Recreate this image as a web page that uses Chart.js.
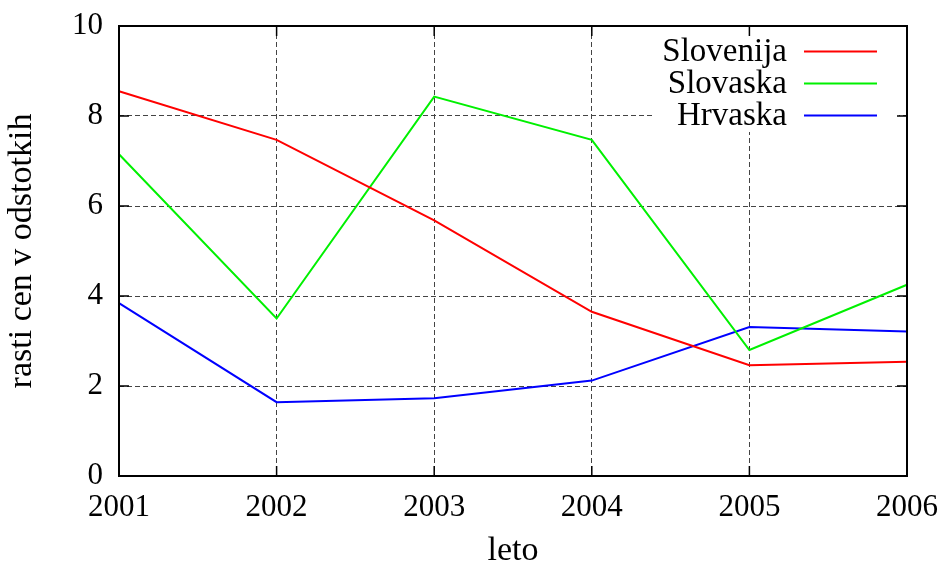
<!DOCTYPE html>
<html lang="en">
<head>
<meta charset="UTF-8">
<title>Rast cen</title>
<style>
html, body { margin: 0; padding: 0; background: #fff; }
#wrap { width: 941px; height: 567px; }
</style>
</head>
<body>
<div id="wrap"><canvas id="myChart" width="941" height="567"></canvas></div>
<script src="https://cdn.jsdelivr.net/npm/chart.js@4/dist/chart.umd.min.js"></script>
<script>
// data
var years = ['2001', '2002', '2003', '2004', '2005', '2006'];
var slovenija = [8.55, 7.47, 5.68, 3.65, 2.46, 2.54];
var slovaska = [7.15, 3.50, 8.43, 7.47, 2.80, 4.25];
var hrvaska = [3.84, 1.64, 1.73, 2.12, 3.31, 3.21];
var seriesNames = ['Slovenija', 'Slovaska', 'Hrvaska'];
var seriesColors = ['#ff0000', '#00f000', '#0000ff'];

var FONT = '"Liberation Serif", "DejaVu Serif", serif';

// gnuplot style frame: border all round, ticks pointing inwards on every side
var framePlugin = {
  id: 'frame',
  afterDraw: function(chart) {
    var ctx = chart.ctx;
    var a = chart.chartArea;
    var xs = chart.scales.x, ys = chart.scales.y;
    ctx.save();

    // key box (white, hides the grid behind it)
    ctx.fillStyle = '#fff';
    ctx.fillRect(655, a.top + 2, a.right - 8 - 655, 104);
    ctx.font = '33px ' + FONT;
    ctx.textAlign = 'right';
    ctx.textBaseline = 'middle';
    for (var i = 0; i < seriesNames.length; i++) {
      var yy = a.top + 25.5 + i * 32;
      ctx.fillStyle = '#000';
      ctx.fillText(seriesNames[i], 787, yy + 1);
      ctx.strokeStyle = seriesColors[i];
      ctx.lineWidth = 2;
      ctx.beginPath();
      ctx.moveTo(804, yy);
      ctx.lineTo(877, yy);
      ctx.stroke();
    }

    ctx.strokeStyle = '#000';
    ctx.lineWidth = 1.5;
    ctx.beginPath();
    ys.ticks.forEach(function(t) {
      var p = ys.getPixelForValue(t.value);
      ctx.moveTo(a.left, p); ctx.lineTo(a.left + 10, p);
      ctx.moveTo(a.right, p); ctx.lineTo(a.right - 10, p);
    });
    xs.ticks.forEach(function(t, k) {
      var p = xs.getPixelForTick(k);
      ctx.moveTo(p, a.bottom); ctx.lineTo(p, a.bottom - 10);
      ctx.moveTo(p, a.top); ctx.lineTo(p, a.top + 10);
    });
    ctx.stroke();

    ctx.lineWidth = 2;
    ctx.strokeRect(a.left, a.top, a.right - a.left, a.bottom - a.top);
    ctx.restore();
  }
};

// keep the plot box where the reference has it
function noScalePadding(s) {
  s.paddingTop = 0;
  s.paddingBottom = 0;
  s.paddingLeft = 0;
  s.paddingRight = 0;
}

var ctx = document.getElementById('myChart').getContext('2d');
var mychart = new Chart(ctx, {
  type: 'line',
  data: {
    labels: years,
    datasets: [
      { label: seriesNames[0], data: slovenija, borderColor: seriesColors[0] },
      { label: seriesNames[1], data: slovaska, borderColor: seriesColors[1] },
      { label: seriesNames[2], data: hrvaska, borderColor: seriesColors[2] }
    ]
  },
  options: {
    responsive: false,
    animation: false,
    devicePixelRatio: 1,
    layout: { padding: { top: 26, right: 34, left: 0, bottom: 0 } },
    elements: {
      line: { borderWidth: 2, tension: 0, fill: false },
      point: { radius: 0 }
    },
    plugins: {
      legend: { display: false },
      tooltip: { enabled: false }
    },
    scales: {
      x: {
        type: 'category',
        offset: false,
        grid: { color: '#444', lineWidth: 1, drawTicks: false },
        border: { display: false, dash: [5, 3] },
        ticks: { color: '#000', font: { family: FONT, size: 31 }, padding: 13, maxRotation: 0, autoSkip: false },
        title: { display: true, text: 'leto', color: '#000', font: { family: FONT, size: 34 }, padding: { top: 0, bottom: -4 } },
        afterFit: function(s) { s.height = 91; noScalePadding(s); }
      },
      y: {
        min: 0,
        max: 10,
        grid: { color: '#444', lineWidth: 1, drawTicks: false },
        border: { display: false, dash: [5, 3] },
        ticks: { stepSize: 2, color: '#000', font: { family: FONT, size: 31 }, padding: 16 },
        title: { display: true, text: 'rasti cen v odstotkih', color: '#000', font: { family: FONT, size: 34 }, padding: { top: 2, bottom: 0 } },
        afterFit: function(s) { s.width = 119; noScalePadding(s); }
      }
    }
  },
  plugins: [framePlugin]
});
</script>
</body>
</html>
